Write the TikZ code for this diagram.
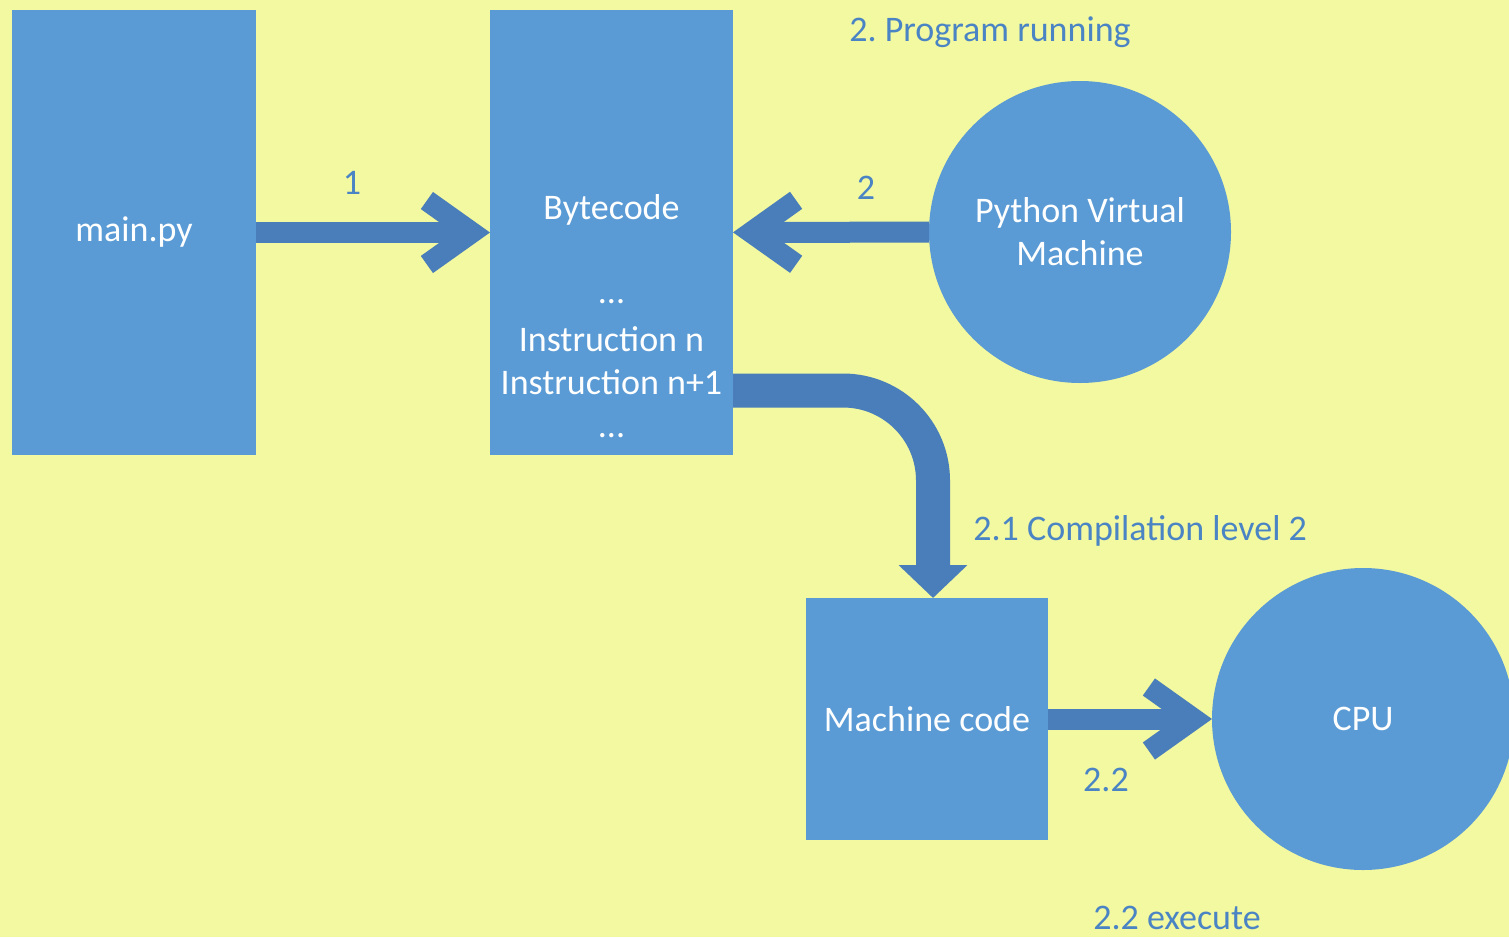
\documentclass[tikz,border=0pt]{standalone}
\usepackage{fontspec}
\setmainfont{Carlito}
\frenchspacing
\usetikzlibrary{positioning}
\usetikzlibrary{arrows.meta}

\definecolor{bgyellow}{HTML}{F3F9A0}
\definecolor{boxblue}{HTML}{5B9BD5}
\definecolor{arrowblue}{HTML}{4A7EBB}
\definecolor{labelblue}{HTML}{4A84C4}

\begin{document}
\begin{tikzpicture}[
        x = 0.5pt, y = -0.5pt,
        block/.style = {
            fill = boxblue,
            text = white,
            font = \fontsize{18}{21.5}\selectfont,
            align = center,
            inner sep = 0pt,
            outer sep = 0pt
        },
        box/.style 2 args = {block, rectangle, minimum width = #1, minimum height = #2},
        ball/.style = {block, circle, minimum size = #1},
        ball/.default = 151pt,
        note/.style = {
            text = labelblue,
            font = \fontsize{18}{21.5}\selectfont,
            inner sep = 0pt
        },
        barbarrow/.style = {
            draw = arrowblue,
            line width = 10.5pt,
            -{Straight Barb[length=22.5pt, width=32pt]}
        },
        bendarrow/.style = {
            draw = arrowblue,
            line width = 17pt,
            rounded corners = 45pt,
            -{Triangle[length=16.5pt, width=33.5pt, fill=arrowblue]}
        }
        ]
%
        \clip (0,0) rectangle (1509,937);
        \fill[bgyellow] (0,0) rectangle (1509,937);
%
        \node[box={122pt}{222.5pt}] (mainpy) at (134,232.5) {main.py};
        \node[box={121.5pt}{222.5pt}] (bytecode) at (611.5,232.5) {};
        \node[block, fill = none] (bctext) at (611.5,316)
            {Bytecode\\[20.5pt]...\\[2.5pt]Instruction n\\Instruction n+1\\...};
        \node[ball] (pvm) at (1080,232) {Python Virtual\\Machine};
%
        \node[box={121pt}{121pt}] (mcode) at (927,719) {Machine code};
        \node[ball] (cpu) at (1363,719) {CPU};
%
        \coordinate (bcout) at ([yshift=-79pt]bytecode.east);
%
        \draw[barbarrow] (mainpy) -- (bytecode);
        \draw[barbarrow] (pvm) -- (bytecode);
        \draw[bendarrow] (bcout) -| ([xshift=3pt]mcode.north);
        \draw[barbarrow] (mcode) -- (cpu);
%
        \node[note] (l1) at (352,183) {1};
        \node[note] (l2) at (866,188) {2};
        \node[note] (l22) at (1106,780) {2.2};
        \node[note, anchor = west] (l21) at (973,531) {2.1 Compilation level 2};
        \node[note] (title) at (990,32) {2. Program running};
        \node[note] (exec) at (1177,918) {2.2 execute};
%
    \end{tikzpicture}
\end{document}
